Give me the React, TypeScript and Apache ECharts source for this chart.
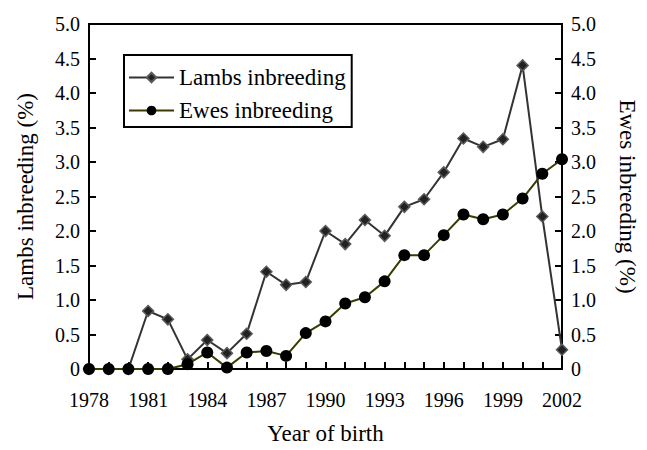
import React, { useEffect, useRef } from "react";
import * as echarts from "echarts";

const years = [
  "1978", "1979", "1980", "1981", "1982", "1983", "1984", "1985", "1986",
  "1987", "1988", "1989", "1990", "1991", "1992", "1993", "1994", "1995",
  "1996", "1997", "1998", "1999", "2000", "2001", "2002",
];

const lambsInbreeding = [
  0, 0, 0, 0.84, 0.72, 0.14, 0.42, 0.23, 0.51, 1.41, 1.22, 1.26, 2.0, 1.81,
  2.16, 1.93, 2.35, 2.46, 2.85, 3.34, 3.22, 3.33, 4.4, 2.21, 0.28,
];

const ewesInbreeding = [
  0, 0, 0, 0, 0, 0.07, 0.24, 0.02, 0.24, 0.26, 0.19, 0.52, 0.69, 0.95, 1.04,
  1.27, 1.65, 1.65, 1.94, 2.24, 2.17, 2.24, 2.47, 2.83, 3.04,
];

const seriesNames = ["Lambs inbreeding", "Ewes inbreeding"];
const axisNames = ["Year of birth", "Lambs inbreeding (%)", "Ewes inbreeding (%)"];

const FONT = "Liberation Serif";

export default function App() {
  const ref = useRef<HTMLDivElement>(null);

  useEffect(() => {
    if (!ref.current) return;
    const chart = echarts.init(ref.current, undefined, { renderer: "svg" });
    const yLabelFmt = (v: number) => (v === 0 ? "0" : v.toFixed(1));
    const yAxisCommon = {
      type: "value",
      min: 0,
      max: 5,
      interval: 0.5,
      nameLocation: "middle",
      nameTextStyle: { fontFamily: FONT, fontSize: 23, color: "#000" },
      axisLine: { show: true, lineStyle: { color: "#000", width: 2 } },
      axisTick: { show: true, inside: true, length: 7, lineStyle: { color: "#000", width: 2 } },
      splitLine: { show: false },
      axisLabel: {
        fontFamily: FONT,
        fontSize: 20,
        color: "#000",
        margin: 9,
        formatter: yLabelFmt,
      },
    };
    chart.setOption({
      animation: false,
      backgroundColor: "#fff",
      textStyle: { fontFamily: FONT, color: "#000" },
      grid: {
        left: 89,
        right: 85,
        top: 24,
        bottom: 73,
        show: true,
        borderColor: "#000",
        borderWidth: 2,
        containLabel: false,
      },
      legend: {
        show: true,
        orient: "vertical",
        left: 124,
        top: 55,
        padding: [11, 6, 5, 4],
        itemGap: 10,
        itemWidth: 45,
        itemHeight: 12,
        borderColor: "#000",
        borderWidth: 2,
        backgroundColor: "#fff",
        textStyle: { fontFamily: FONT, fontSize: 23, color: "#000" },
        data: seriesNames,
      },
      xAxis: {
        type: "category",
        data: years,
        boundaryGap: false,
        name: axisNames[0],
        nameLocation: "middle",
        nameGap: 53,
        nameTextStyle: { fontFamily: FONT, fontSize: 23, color: "#000" },
        axisLine: { show: true, lineStyle: { color: "#000", width: 2 } },
        axisTick: {
          show: true,
          inside: true,
          length: 7,
          interval: 0,
          lineStyle: { color: "#000", width: 2 },
        },
        axisLabel: {
          fontFamily: FONT,
          fontSize: 20,
          color: "#000",
          margin: 21,
          interval: 2,
        },
        splitLine: { show: false },
      },
      yAxis: [
        {
          ...yAxisCommon,
          position: "left",
          name: axisNames[1],
          nameGap: 52,
          nameRotate: 90,
        },
        {
          ...yAxisCommon,
          position: "right",
          name: axisNames[2],
          nameGap: 54,
          nameRotate: -90,
        },
      ],
      series: [
        {
          name: seriesNames[0],
          type: "line",
          yAxisIndex: 0,
          data: lambsInbreeding,
          symbol: "diamond",
          symbolSize: 11,
          lineStyle: { color: "#333333", width: 2 },
          itemStyle: { color: "#222222", borderColor: "#5a5a5a", borderWidth: 1.5 },
          z: 2,
        },
        {
          name: seriesNames[1],
          type: "line",
          yAxisIndex: 1,
          data: ewesInbreeding,
          symbol: "circle",
          symbolSize: 12,
          lineStyle: { color: "#3a3a00", width: 2 },
          itemStyle: { color: "#000000", borderColor: "#000000", borderWidth: 0 },
          z: 3,
        },
      ],
    });
    return () => chart.dispose();
  }, []);

  return (
    <div
      ref={ref}
      style={{ position: "fixed", left: 0, top: 0, width: 647, height: 450, background: "#fff" }}
    />
  );
}
